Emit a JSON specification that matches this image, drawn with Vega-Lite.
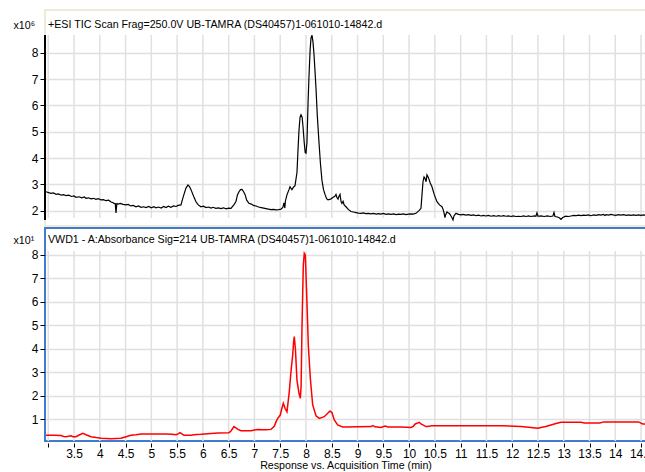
{
  "$schema": "https://vega.github.io/schema/vega-lite/v6.json",
  "padding": {"left": 12, "top": 9, "right": 0, "bottom": 0},
  "spacing": 0,
  "config": {"font": "Liberation Sans", "view": {"stroke": null}},
  "datasets": {
    "grid": [{"t":3},{"t":3.5},{"t":4},{"t":4.5},{"t":5},{"t":5.5},{"t":6},{"t":6.5},{"t":7},{"t":7.5},{"t":8},{"t":8.5},{"t":9},{"t":9.5},{"t":10},{"t":10.5},{"t":11},{"t":11.5},{"t":12},{"t":12.5},{"t":13},{"t":13.5},{"t":14},{"t":14.5}],
    "one": [{"k": 1}],
    "tic": [
      {"t":2.956,"v":2.72},{"t":3.05,"v":2.66},{"t":3.10,"v":2.68},{"t":3.15,"v":2.62},{"t":3.20,"v":2.64},{"t":3.25,"v":2.59},{"t":3.30,"v":2.61},{"t":3.344,"v":2.57},{"t":3.40,"v":2.59},{"t":3.45,"v":2.54},{"t":3.50,"v":2.56},{"t":3.538,"v":2.51},{"t":3.60,"v":2.53},{"t":3.65,"v":2.49},{"t":3.70,"v":2.52},{"t":3.732,"v":2.47},{"t":3.78,"v":2.49},{"t":3.83,"v":2.45},{"t":3.88,"v":2.47},{"t":3.926,"v":2.43},{"t":3.97,"v":2.46},{"t":4.02,"v":2.41},{"t":4.07,"v":2.42},{"t":4.12,"v":2.38},{"t":4.17,"v":2.40},{"t":4.22,"v":2.33},{"t":4.26,"v":2.30},{"t":4.275,"v":2.28},{"t":4.30,"v":2.27},{"t":4.314,"v":1.91},{"t":4.33,"v":2.27},{"t":4.353,"v":2.25},{"t":4.40,"v":2.28},{"t":4.45,"v":2.24},{"t":4.508,"v":2.22},{"t":4.55,"v":2.24},{"t":4.60,"v":2.18},{"t":4.65,"v":2.20},{"t":4.702,"v":2.15},{"t":4.75,"v":2.18},{"t":4.80,"v":2.13},{"t":4.85,"v":2.15},{"t":4.896,"v":2.12},{"t":4.95,"v":2.16},{"t":5.00,"v":2.11},{"t":5.05,"v":2.15},{"t":5.09,"v":2.11},{"t":5.14,"v":2.14},{"t":5.19,"v":2.10},{"t":5.24,"v":2.16},{"t":5.284,"v":2.12},{"t":5.33,"v":2.17},{"t":5.38,"v":2.13},{"t":5.43,"v":2.18},{"t":5.478,"v":2.16},{"t":5.52,"v":2.20},{"t":5.575,"v":2.22},{"t":5.60,"v":2.40},{"t":5.633,"v":2.62},{"t":5.67,"v":2.85},{"t":5.711,"v":2.98},{"t":5.74,"v":2.92},{"t":5.769,"v":2.80},{"t":5.82,"v":2.55},{"t":5.866,"v":2.34},{"t":5.91,"v":2.22},{"t":5.963,"v":2.15},{"t":6.01,"v":2.17},{"t":6.06,"v":2.12},{"t":6.11,"v":2.14},{"t":6.157,"v":2.10},{"t":6.20,"v":2.13},{"t":6.25,"v":2.09},{"t":6.30,"v":2.11},{"t":6.351,"v":2.08},{"t":6.40,"v":2.11},{"t":6.45,"v":2.07},{"t":6.50,"v":2.10},{"t":6.545,"v":2.09},{"t":6.60,"v":2.22},{"t":6.642,"v":2.35},{"t":6.67,"v":2.60},{"t":6.70,"v":2.72},{"t":6.73,"v":2.80},{"t":6.759,"v":2.81},{"t":6.79,"v":2.72},{"t":6.817,"v":2.62},{"t":6.85,"v":2.40},{"t":6.894,"v":2.28},{"t":6.94,"v":2.25},{"t":6.98,"v":2.20},{"t":7.03,"v":2.18},{"t":7.08,"v":2.14},{"t":7.13,"v":2.12},{"t":7.18,"v":2.10},{"t":7.224,"v":2.08},{"t":7.27,"v":2.06},{"t":7.32,"v":2.04},{"t":7.37,"v":2.05},{"t":7.418,"v":2.03},{"t":7.47,"v":2.04},{"t":7.515,"v":2.06},{"t":7.55,"v":2.12},{"t":7.573,"v":2.30},{"t":7.59,"v":2.10},{"t":7.60,"v":2.36},{"t":7.631,"v":2.60},{"t":7.67,"v":2.80},{"t":7.69,"v":2.91},{"t":7.71,"v":2.85},{"t":7.728,"v":2.80},{"t":7.76,"v":2.90},{"t":7.787,"v":2.95},{"t":7.825,"v":3.45},{"t":7.845,"v":4.30},{"t":7.864,"v":5.05},{"t":7.885,"v":5.55},{"t":7.903,"v":5.64},{"t":7.925,"v":5.55},{"t":7.942,"v":5.20},{"t":7.965,"v":4.60},{"t":7.985,"v":4.20},{"t":8.0,"v":4.18},{"t":8.019,"v":4.60},{"t":8.04,"v":6.10},{"t":8.058,"v":7.10},{"t":8.08,"v":8.10},{"t":8.097,"v":8.55},{"t":8.116,"v":8.67},{"t":8.136,"v":8.40},{"t":8.155,"v":7.95},{"t":8.175,"v":7.30},{"t":8.194,"v":6.65},{"t":8.22,"v":5.60},{"t":8.252,"v":4.60},{"t":8.28,"v":3.80},{"t":8.31,"v":3.15},{"t":8.34,"v":2.80},{"t":8.369,"v":2.62},{"t":8.40,"v":2.46},{"t":8.427,"v":2.41},{"t":8.46,"v":2.43},{"t":8.485,"v":2.45},{"t":8.52,"v":2.50},{"t":8.56,"v":2.55},{"t":8.582,"v":2.62},{"t":8.60,"v":2.50},{"t":8.621,"v":2.44},{"t":8.64,"v":2.55},{"t":8.66,"v":2.62},{"t":8.68,"v":2.35},{"t":8.698,"v":2.28},{"t":8.72,"v":2.36},{"t":8.74,"v":2.22},{"t":8.776,"v":2.15},{"t":8.82,"v":2.05},{"t":8.873,"v":1.97},{"t":8.92,"v":1.95},{"t":8.97,"v":1.93},{"t":9.02,"v":1.91},{"t":9.067,"v":1.90},{"t":9.11,"v":1.92},{"t":9.16,"v":1.89},{"t":9.21,"v":1.90},{"t":9.261,"v":1.88},{"t":9.31,"v":1.90},{"t":9.36,"v":1.87},{"t":9.41,"v":1.89},{"t":9.455,"v":1.87},{"t":9.50,"v":1.90},{"t":9.55,"v":1.86},{"t":9.60,"v":1.88},{"t":9.649,"v":1.86},{"t":9.70,"v":1.88},{"t":9.75,"v":1.85},{"t":9.80,"v":1.87},{"t":9.843,"v":1.86},{"t":9.89,"v":1.88},{"t":9.94,"v":1.85},{"t":9.99,"v":1.87},{"t":10.037,"v":1.88},{"t":10.08,"v":1.87},{"t":10.134,"v":1.90},{"t":10.192,"v":2.00},{"t":10.231,"v":2.09},{"t":10.25,"v":2.60},{"t":10.27,"v":3.10},{"t":10.29,"v":3.28},{"t":10.308,"v":3.23},{"t":10.33,"v":3.10},{"t":10.347,"v":3.36},{"t":10.365,"v":3.30},{"t":10.386,"v":3.20},{"t":10.41,"v":3.05},{"t":10.444,"v":2.91},{"t":10.49,"v":2.60},{"t":10.541,"v":2.34},{"t":10.59,"v":2.22},{"t":10.638,"v":2.15},{"t":10.66,"v":2.05},{"t":10.68,"v":1.90},{"t":10.696,"v":1.74},{"t":10.71,"v":1.85},{"t":10.735,"v":1.95},{"t":10.755,"v":1.92},{"t":10.78,"v":1.90},{"t":10.813,"v":1.80},{"t":10.835,"v":1.72},{"t":10.852,"v":1.65},{"t":10.87,"v":1.80},{"t":10.91,"v":1.90},{"t":10.96,"v":1.86},{"t":11.007,"v":1.84},{"t":11.05,"v":1.86},{"t":11.10,"v":1.83},{"t":11.15,"v":1.85},{"t":11.201,"v":1.82},{"t":11.25,"v":1.84},{"t":11.30,"v":1.81},{"t":11.35,"v":1.83},{"t":11.395,"v":1.80},{"t":11.44,"v":1.82},{"t":11.49,"v":1.80},{"t":11.54,"v":1.82},{"t":11.589,"v":1.79},{"t":11.64,"v":1.81},{"t":11.69,"v":1.79},{"t":11.74,"v":1.81},{"t":11.783,"v":1.79},{"t":11.83,"v":1.81},{"t":11.88,"v":1.79},{"t":11.93,"v":1.80},{"t":11.977,"v":1.78},{"t":12.02,"v":1.80},{"t":12.07,"v":1.78},{"t":12.12,"v":1.79},{"t":12.171,"v":1.78},{"t":12.22,"v":1.80},{"t":12.27,"v":1.78},{"t":12.32,"v":1.80},{"t":12.365,"v":1.78},{"t":12.43,"v":1.80},{"t":12.46,"v":1.79},{"t":12.481,"v":1.92},{"t":12.50,"v":1.79},{"t":12.559,"v":1.80},{"t":12.62,"v":1.78},{"t":12.68,"v":1.80},{"t":12.74,"v":1.78},{"t":12.79,"v":1.80},{"t":12.811,"v":1.93},{"t":12.83,"v":1.78},{"t":12.88,"v":1.76},{"t":12.92,"v":1.72},{"t":12.947,"v":1.67},{"t":12.98,"v":1.74},{"t":13.04,"v":1.79},{"t":13.09,"v":1.78},{"t":13.141,"v":1.80},{"t":13.19,"v":1.82},{"t":13.24,"v":1.81},{"t":13.29,"v":1.83},{"t":13.335,"v":1.81},{"t":13.38,"v":1.83},{"t":13.43,"v":1.82},{"t":13.48,"v":1.84},{"t":13.529,"v":1.81},{"t":13.58,"v":1.84},{"t":13.63,"v":1.82},{"t":13.68,"v":1.85},{"t":13.722,"v":1.83},{"t":13.77,"v":1.86},{"t":13.80,"v":1.82},{"t":13.82,"v":1.85},{"t":13.87,"v":1.83},{"t":13.916,"v":1.86},{"t":13.96,"v":1.84},{"t":14.01,"v":1.82},{"t":14.06,"v":1.85},{"t":14.11,"v":1.83},{"t":14.16,"v":1.85},{"t":14.21,"v":1.82},{"t":14.26,"v":1.84},{"t":14.304,"v":1.82},{"t":14.35,"v":1.84},{"t":14.40,"v":1.82},{"t":14.45,"v":1.84},{"t":14.498,"v":1.82},{"t":14.55,"v":1.84},{"t":14.595,"v":1.83}
    ],
    "uv": [
      {"t":2.956,"v":0.32},{"t":3.10,"v":0.32},{"t":3.247,"v":0.31},{"t":3.30,"v":0.27},{"t":3.344,"v":0.26},{"t":3.441,"v":0.30},{"t":3.48,"v":0.26},{"t":3.538,"v":0.26},{"t":3.60,"v":0.33},{"t":3.67,"v":0.40},{"t":3.732,"v":0.34},{"t":3.78,"v":0.30},{"t":3.829,"v":0.26},{"t":3.93,"v":0.22},{"t":4.023,"v":0.19},{"t":4.217,"v":0.17},{"t":4.411,"v":0.19},{"t":4.508,"v":0.26},{"t":4.605,"v":0.32},{"t":4.702,"v":0.34},{"t":4.80,"v":0.37},{"t":4.896,"v":0.37},{"t":5.284,"v":0.37},{"t":5.40,"v":0.36},{"t":5.478,"v":0.34},{"t":5.52,"v":0.38},{"t":5.556,"v":0.43},{"t":5.60,"v":0.37},{"t":5.633,"v":0.32},{"t":5.769,"v":0.32},{"t":5.87,"v":0.35},{"t":5.963,"v":0.36},{"t":6.157,"v":0.40},{"t":6.30,"v":0.42},{"t":6.506,"v":0.43},{"t":6.545,"v":0.50},{"t":6.603,"v":0.69},{"t":6.681,"v":0.57},{"t":6.739,"v":0.51},{"t":6.933,"v":0.51},{"t":7.00,"v":0.54},{"t":7.069,"v":0.57},{"t":7.15,"v":0.55},{"t":7.224,"v":0.55},{"t":7.321,"v":0.57},{"t":7.385,"v":0.70},{"t":7.42,"v":0.90},{"t":7.451,"v":1.04},{"t":7.501,"v":1.18},{"t":7.53,"v":1.45},{"t":7.56,"v":1.68},{"t":7.593,"v":1.47},{"t":7.631,"v":1.32},{"t":7.676,"v":2.18},{"t":7.709,"v":3.03},{"t":7.742,"v":3.74},{"t":7.76,"v":4.30},{"t":7.773,"v":4.52},{"t":7.796,"v":3.95},{"t":7.825,"v":2.67},{"t":7.864,"v":2.11},{"t":7.89,"v":1.89},{"t":7.905,"v":2.40},{"t":7.922,"v":4.88},{"t":7.948,"v":7.57},{"t":7.967,"v":8.07},{"t":7.987,"v":8.00},{"t":8.014,"v":6.30},{"t":8.045,"v":4.17},{"t":8.084,"v":2.75},{"t":8.13,"v":1.61},{"t":8.194,"v":1.15},{"t":8.258,"v":1.04},{"t":8.355,"v":1.11},{"t":8.421,"v":1.26},{"t":8.466,"v":1.35},{"t":8.505,"v":1.28},{"t":8.549,"v":0.97},{"t":8.615,"v":0.76},{"t":8.712,"v":0.67},{"t":8.776,"v":0.67},{"t":9.261,"v":0.69},{"t":9.30,"v":0.73},{"t":9.34,"v":0.68},{"t":9.455,"v":0.65},{"t":9.533,"v":0.71},{"t":9.59,"v":0.67},{"t":9.843,"v":0.67},{"t":10.037,"v":0.65},{"t":10.08,"v":0.70},{"t":10.12,"v":0.80},{"t":10.198,"v":0.87},{"t":10.231,"v":0.80},{"t":10.328,"v":0.69},{"t":10.40,"v":0.70},{"t":10.425,"v":0.73},{"t":11.783,"v":0.73},{"t":12.171,"v":0.69},{"t":12.365,"v":0.65},{"t":12.495,"v":0.62},{"t":12.559,"v":0.65},{"t":12.65,"v":0.69},{"t":12.753,"v":0.76},{"t":12.85,"v":0.82},{"t":12.947,"v":0.87},{"t":13.335,"v":0.87},{"t":13.40,"v":0.84},{"t":13.70,"v":0.84},{"t":13.781,"v":0.89},{"t":14.45,"v":0.89},{"t":14.532,"v":0.80},{"t":14.596,"v":0.80}
    ]
  },
  "vconcat": [
    {
      "width": 601,
      "height": 216,
      "view": {"stroke": "#ece3cf", "strokeWidth": 1.5},
      "title": {"text": "+ESI TIC Scan Frag=250.0V UB-TAMRA (DS40457)1-061010-14842.d", "anchor": "start", "frame": "group", "offset": -21, "baseline": "top", "dx": 3, "fontSize": 10.67, "font": "Liberation Sans", "fontWeight": "normal", "color": "#000"},
      "layer": [
        {
          "data": {"name": "grid"},
          "mark": {"type": "rule", "color": "#e0e0e0", "strokeWidth": 1.5},
          "encoding": {
            "x": {"field": "t", "type": "quantitative", "scale": {"domain": [2.937, 14.596], "nice": false, "zero": false}, "axis": null},
            "y": {"datum": 1.72, "type": "quantitative", "scale": {"domain": [1.419, 9.622], "nice": false, "zero": false},
              "axis": {"values": [2,3,4,5,6,7,8], "title": "x10⁶", "titleAngle": 0, "titleX": -32, "titleY": 15, "titleAlign": "left", "titleBaseline": "middle", "titleFontSize": 10.67, "titleFont": "Liberation Sans", "titleFontWeight": "normal", "titleColor": "#000", "domain": false, "ticks": true, "tickSize": 5, "tickColor": "#000", "labelPadding": 2, "labelFontSize": 12, "labelFont": "Liberation Sans", "labelColor": "#000", "grid": true, "gridColor": "#e0e0e0", "gridWidth": 1.5}},
            "y2": {"datum": 8.672}
          }
        },
        {
          "data": {"name": "one"},
          "mark": {"type": "rule", "color": "#000", "strokeWidth": 2},
          "encoding": {
            "x": {"datum": 2.937, "type": "quantitative", "scale": {"domain": [2.937, 14.596], "nice": false, "zero": false}, "axis": null},
            "y": {"datum": 1.647, "type": "quantitative", "scale": {"domain": [1.419, 9.622], "nice": false, "zero": false},
              "axis": {"values": [2,3,4,5,6,7,8], "title": "x10⁶", "titleAngle": 0, "titleX": -32, "titleY": 15, "titleAlign": "left", "titleBaseline": "middle", "titleFontSize": 10.67, "titleFont": "Liberation Sans", "titleFontWeight": "normal", "titleColor": "#000", "domain": false, "ticks": true, "tickSize": 5, "tickColor": "#000", "labelPadding": 2, "labelFontSize": 12, "labelFont": "Liberation Sans", "labelColor": "#000", "grid": true, "gridColor": "#e0e0e0", "gridWidth": 1.5}},
            "y2": {"datum": 8.672}
          }
        },
        {
          "data": {"name": "tic"},
          "mark": {"type": "line", "color": "#000", "strokeWidth": 1.2},
          "encoding": {
            "x": {"field": "t", "type": "quantitative", "scale": {"domain": [2.937, 14.596], "nice": false, "zero": false}, "axis": null},
            "y": {"field": "v", "type": "quantitative", "scale": {"domain": [1.419, 9.622], "nice": false, "zero": false},
              "axis": {"values": [2,3,4,5,6,7,8], "title": "x10⁶", "titleAngle": 0, "titleX": -32, "titleY": 15, "titleAlign": "left", "titleBaseline": "middle", "titleFontSize": 10.67, "titleFont": "Liberation Sans", "titleFontWeight": "normal", "titleColor": "#000", "domain": false, "ticks": true, "tickSize": 5, "tickColor": "#000", "labelPadding": 2, "labelFontSize": 12, "labelFont": "Liberation Sans", "labelColor": "#000", "grid": true, "gridColor": "#e0e0e0", "gridWidth": 1.5}}
          }
        }
      ]
    },
    {
      "width": 601,
      "height": 213,
      "view": {"stroke": "#3f7bd0", "strokeWidth": 2},
      "title": {"text": "VWD1 - A:Absorbance Sig=214 UB-TAMRA (DS40457)1-061010-14842.d", "anchor": "start", "frame": "group", "offset": -18, "baseline": "top", "dx": 3, "fontSize": 10.67, "font": "Liberation Sans", "fontWeight": "normal", "color": "#000"},
      "layer": [
        {
          "data": {"name": "grid"},
          "mark": {"type": "rule", "color": "#e0e0e0", "strokeWidth": 1.5},
          "encoding": {
            "x": {"field": "t", "type": "quantitative", "scale": {"domain": [2.937, 14.596], "nice": false, "zero": false},
              "axis": {"values": [3,3.5,4,4.5,5,5.5,6,6.5,7,7.5,8,8.5,9,9.5,10,10.5,11,11.5,12,12.5,13,13.5,14,14.5], "format": "~g", "labelExpr": "datum.value == 3 ? '' : datum.label", "labelFlush": false, "labelOverlap": false, "domain": false, "grid": false, "offset": 2, "tickSize": 4, "tickColor": "#000", "labelPadding": 1, "labelFontSize": 12, "labelFont": "Liberation Sans", "labelColor": "#000", "title": "Response vs. Acquisition Time (min)", "titleFontSize": 10.67, "titleFont": "Liberation Sans", "titleFontWeight": "normal", "titleColor": "#000", "titlePadding": 1}},
            "y": {"datum": 0.0754, "type": "quantitative", "scale": {"domain": [0.0754, 9.15], "nice": false, "zero": false},
              "axis": {"values": [1,2,3,4,5,6,7,8], "title": "x10¹", "titleAngle": 0, "titleX": -32, "titleY": 12, "titleAlign": "left", "titleBaseline": "middle", "titleFontSize": 10.67, "titleFont": "Liberation Sans", "titleFontWeight": "normal", "titleColor": "#000", "domain": false, "ticks": true, "tickSize": 5, "tickColor": "#000", "labelPadding": 2, "labelFontSize": 12, "labelFont": "Liberation Sans", "labelColor": "#000", "grid": true, "gridColor": "#e0e0e0", "gridWidth": 1.5}},
            "y2": {"datum": 8.17}
          }
        },
        {
          "data": {"name": "uv"},
          "mark": {"type": "line", "color": "#ff0000", "strokeWidth": 1.5},
          "encoding": {
            "x": {"field": "t", "type": "quantitative", "scale": {"domain": [2.937, 14.596], "nice": false, "zero": false},
              "axis": {"values": [3,3.5,4,4.5,5,5.5,6,6.5,7,7.5,8,8.5,9,9.5,10,10.5,11,11.5,12,12.5,13,13.5,14,14.5], "format": "~g", "labelExpr": "datum.value == 3 ? '' : datum.label", "labelFlush": false, "labelOverlap": false, "domain": false, "grid": false, "offset": 2, "tickSize": 4, "tickColor": "#000", "labelPadding": 1, "labelFontSize": 12, "labelFont": "Liberation Sans", "labelColor": "#000", "title": "Response vs. Acquisition Time (min)", "titleFontSize": 10.67, "titleFont": "Liberation Sans", "titleFontWeight": "normal", "titleColor": "#000", "titlePadding": 1}},
            "y": {"field": "v", "type": "quantitative", "scale": {"domain": [0.0754, 9.15], "nice": false, "zero": false},
              "axis": {"values": [1,2,3,4,5,6,7,8], "title": "x10¹", "titleAngle": 0, "titleX": -32, "titleY": 12, "titleAlign": "left", "titleBaseline": "middle", "titleFontSize": 10.67, "titleFont": "Liberation Sans", "titleFontWeight": "normal", "titleColor": "#000", "domain": false, "ticks": true, "tickSize": 5, "tickColor": "#000", "labelPadding": 2, "labelFontSize": 12, "labelFont": "Liberation Sans", "labelColor": "#000", "grid": true, "gridColor": "#e0e0e0", "gridWidth": 1.5}}
          }
        }
      ]
    }
  ]
}
